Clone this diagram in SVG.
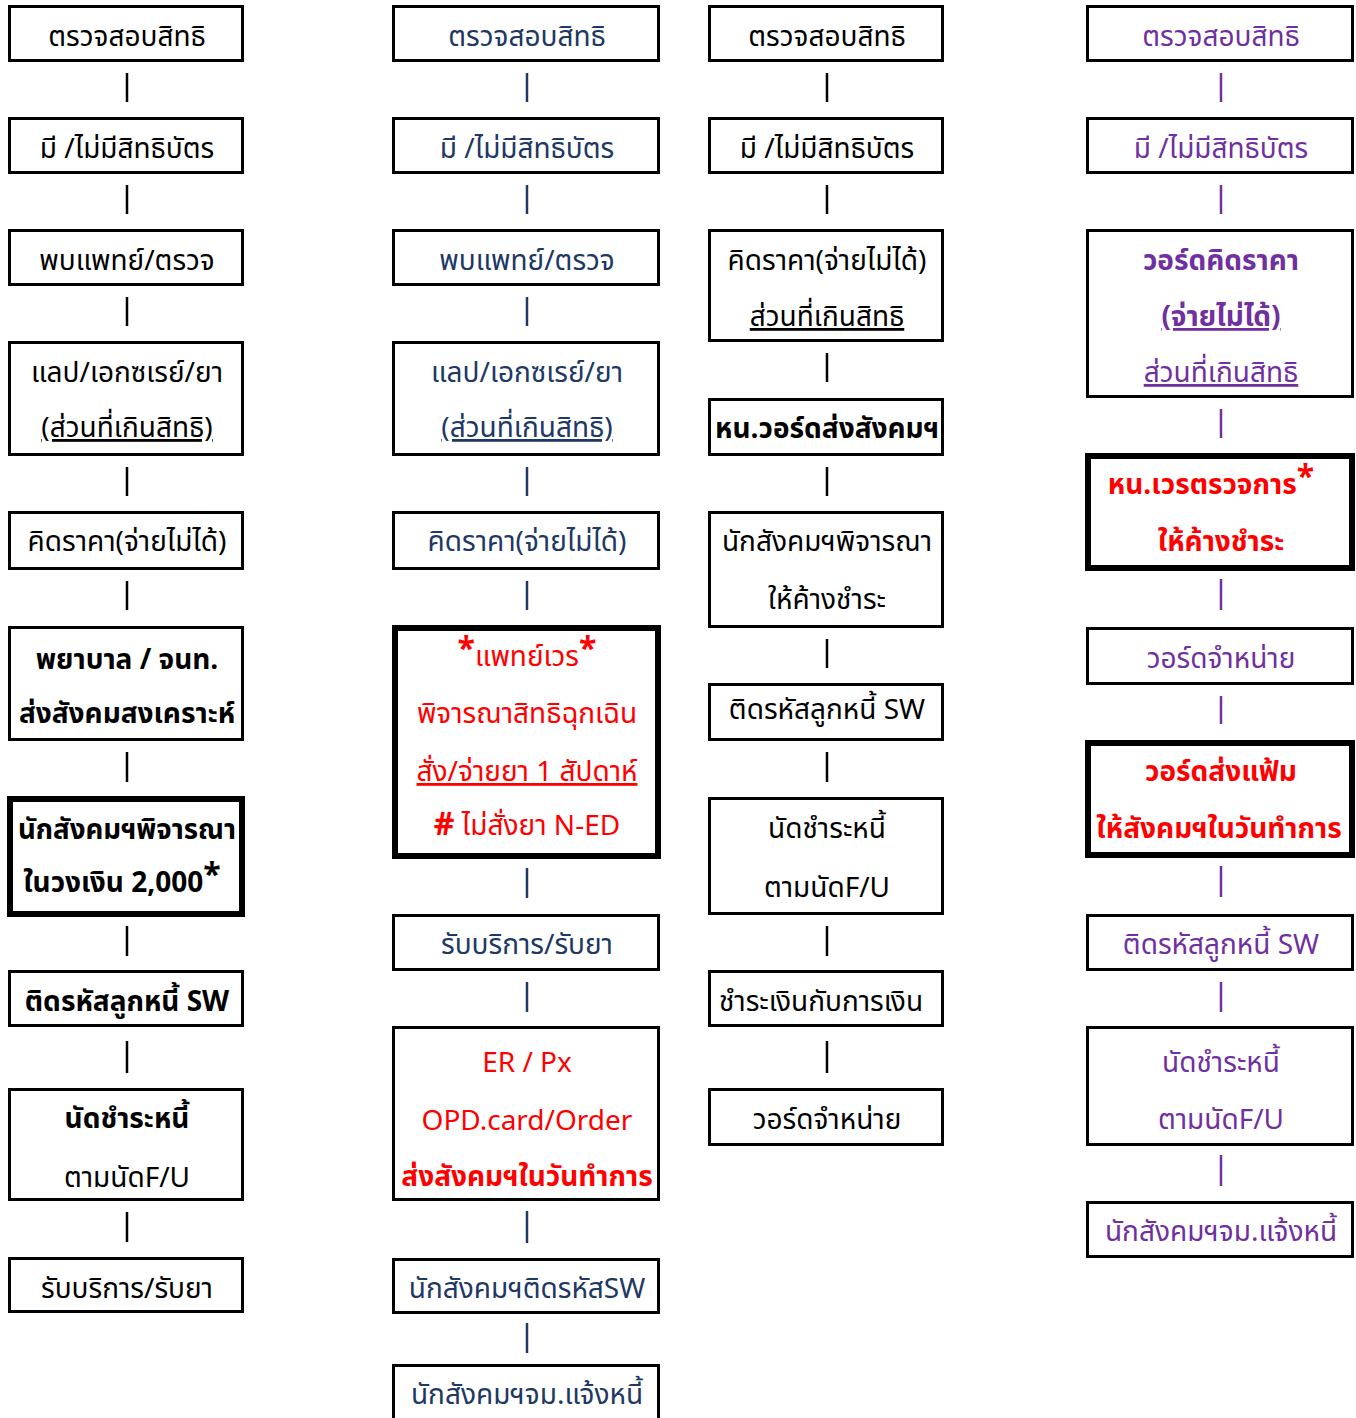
<svg xmlns="http://www.w3.org/2000/svg" width="1356" height="1418" viewBox="0 0 1356 1418">
<style>
text{font-family:"Noto Sans Thai","Tahoma","Noto Sans","DejaVu Sans",sans-serif;font-size:28px;text-anchor:middle}
.box{fill:#fff;stroke:#000;stroke-width:3}
.thick{fill:#fff;stroke:#000;stroke-width:6}
.k{fill:#000}
.b{fill:#203864}
.p{fill:#7030A0}
.r{fill:#FF0000}
.bold{font-weight:bold}
.u{text-decoration:underline}
.ck{stroke:#000;stroke-width:2.5}
.cb{stroke:#203864;stroke-width:2.5}
.cp{stroke:#7030A0;stroke-width:2.5}
.st{font-weight:bold;font-size:32px}
</style>
<rect width="1356" height="1418" fill="#fff"/>
<g id="connectors">
<line class="ck" x1="127" y1="73" x2="127" y2="102"/>
<line class="ck" x1="127" y1="185" x2="127" y2="214"/>
<line class="ck" x1="127" y1="297" x2="127" y2="326"/>
<line class="ck" x1="127" y1="467" x2="127" y2="496"/>
<line class="ck" x1="127" y1="581" x2="127" y2="610"/>
<line class="ck" x1="127" y1="752" x2="127" y2="782"/>
<line class="ck" x1="127" y1="926" x2="127" y2="956"/>
<line class="ck" x1="127" y1="1041" x2="127" y2="1073"/>
<line class="ck" x1="127" y1="1212" x2="127" y2="1242"/>
<line class="cb" x1="527" y1="73" x2="527" y2="102"/>
<line class="cb" x1="527" y1="185" x2="527" y2="214"/>
<line class="cb" x1="527" y1="297" x2="527" y2="326"/>
<line class="cb" x1="527" y1="467" x2="527" y2="496"/>
<line class="cb" x1="527" y1="581" x2="527" y2="610"/>
<line class="cb" x1="527" y1="868" x2="527" y2="898"/>
<line class="cb" x1="527" y1="982" x2="527" y2="1012"/>
<line class="cb" x1="527" y1="1211" x2="527" y2="1243"/>
<line class="cb" x1="527" y1="1323" x2="527" y2="1353"/>
<line class="ck" x1="827" y1="73" x2="827" y2="102"/>
<line class="ck" x1="827" y1="185" x2="827" y2="214"/>
<line class="ck" x1="827" y1="353" x2="827" y2="382"/>
<line class="ck" x1="827" y1="467" x2="827" y2="496"/>
<line class="ck" x1="827" y1="639" x2="827" y2="668"/>
<line class="ck" x1="827" y1="752" x2="827" y2="782"/>
<line class="ck" x1="827" y1="926" x2="827" y2="956"/>
<line class="ck" x1="827" y1="1041" x2="827" y2="1073"/>
<line class="cp" x1="1221" y1="73" x2="1221" y2="102"/>
<line class="cp" x1="1221" y1="185" x2="1221" y2="214"/>
<line class="cp" x1="1221" y1="409" x2="1221" y2="438"/>
<line class="cp" x1="1221" y1="579" x2="1221" y2="610"/>
<line class="cp" x1="1221" y1="696" x2="1221" y2="724"/>
<line class="cp" x1="1221" y1="866" x2="1221" y2="897"/>
<line class="cp" x1="1221" y1="982" x2="1221" y2="1012"/>
<line class="cp" x1="1221" y1="1155" x2="1221" y2="1186"/>
</g>
<!-- Column 1 -->
<g id="c1n1"><rect class="box" x="9.5" y="6.5" width="233" height="54"/><text class="k" x="127" y="46">ตรวจสอบสิทธิ</text></g>
<g id="c1n2"><rect class="box" x="9.5" y="118.5" width="233" height="54"/><text class="k" x="127" y="158">มี /ไม่มีสิทธิบัตร</text></g>
<g id="c1n3"><rect class="box" x="9.5" y="230.5" width="233" height="54"/><text class="k" x="127" y="270">พบแพทย์/ตรวจ</text></g>
<g id="c1n4"><rect class="box" x="9.5" y="342.5" width="233" height="112"/><text class="k" x="127" y="382">แลป/เอกซเรย์/ยา</text><text class="k u" x="127" y="437">(ส่วนที่เกินสิทธิ)</text></g>
<g id="c1n5"><rect class="box" x="9.5" y="512.5" width="233" height="56"/><text class="k" x="127" y="551">คิดราคา(จ่ายไม่ได้)</text></g>
<g id="c1n6"><rect class="box" x="9.5" y="627.5" width="233" height="112"/><text class="k bold" x="127" y="669">พยาบาล / จนท.</text><text class="k bold" x="127" y="723">ส่งสังคมสงเคราะห์</text></g>
<g id="c1n7"><rect class="thick" x="10" y="799" width="232" height="115"/><text class="k bold" x="127" y="839" textLength="218" lengthAdjust="spacingAndGlyphs">นักสังคมฯพิจารณา</text><text class="k bold" x="122" y="892">ในวงเงิน 2,000<tspan class="st" dy="-6">*</tspan></text></g>
<g id="c1n8"><rect class="box" x="9.5" y="971.5" width="233" height="54"/><text class="k bold" x="127" y="1011">ติดรหัสลูกหนี้ SW</text></g>
<g id="c1n9"><rect class="box" x="9.5" y="1089.5" width="233" height="110"/><text class="k bold" x="127" y="1128">นัดชำระหนี้</text><text class="k" x="127" y="1187">ตามนัดF/U</text></g>
<g id="c1n10"><rect class="box" x="9.5" y="1258.5" width="233" height="53"/><text class="k" x="127" y="1298">รับบริการ/รับยา</text></g>
<!-- Column 2 -->
<g id="c2n1"><rect class="box" x="393.5" y="6.5" width="265" height="54"/><text class="b" x="527" y="46">ตรวจสอบสิทธิ</text></g>
<g id="c2n2"><rect class="box" x="393.5" y="118.5" width="265" height="54"/><text class="b" x="527" y="158">มี /ไม่มีสิทธิบัตร</text></g>
<g id="c2n3"><rect class="box" x="393.5" y="230.5" width="265" height="54"/><text class="b" x="527" y="270">พบแพทย์/ตรวจ</text></g>
<g id="c2n4"><rect class="box" x="393.5" y="342.5" width="265" height="112"/><text class="b" x="527" y="382">แลป/เอกซเรย์/ยา</text><text class="b u" x="527" y="437">(ส่วนที่เกินสิทธิ)</text></g>
<g id="c2n5"><rect class="box" x="393.5" y="512.5" width="265" height="56"/><text class="b" x="527" y="551">คิดราคา(จ่ายไม่ได้)</text></g>
<g id="c2n6"><rect class="thick" x="395" y="628" width="263" height="228"/><text class="r" x="527" y="666"><tspan class="st" dy="-6">*</tspan><tspan dy="6">แพทย์เวร</tspan><tspan class="st" dy="-6">*</tspan></text><text class="r" x="527" y="723">พิจารณาสิทธิฉุกเฉิน</text><text class="r u" x="527" y="781">สั่ง/จ่ายยา 1 สัปดาห์</text><text class="r" x="527" y="835"><tspan class="st">#</tspan> ไม่สั่งยา N-ED</text></g>
<g id="c2n7"><rect class="box" x="393.5" y="915.5" width="265" height="54"/><text class="b" x="527" y="954">รับบริการ/รับยา</text></g>
<g id="c2n8"><rect class="box" x="393.5" y="1027.5" width="265" height="172"/><text class="r" x="527" y="1072">ER / Px</text><text class="r" x="527" y="1130">OPD.card/Order</text><text class="r bold" x="527" y="1186">ส่งสังคมฯในวันทำการ</text></g>
<g id="c2n9"><rect class="box" x="393.5" y="1259.5" width="265" height="53"/><text class="b" x="527" y="1298">นักสังคมฯติดรหัสSW</text></g>
<g id="c2n10"><rect class="box" x="393.5" y="1365.5" width="265" height="60"/><text class="b" x="527" y="1404">นักสังคมฯจม.แจ้งหนี้</text></g>
<!-- Column 3 -->
<g id="c3n1"><rect class="box" x="709.5" y="6.5" width="233" height="54"/><text class="k" x="827" y="46">ตรวจสอบสิทธิ</text></g>
<g id="c3n2"><rect class="box" x="709.5" y="118.5" width="233" height="54"/><text class="k" x="827" y="158">มี /ไม่มีสิทธิบัตร</text></g>
<g id="c3n3"><rect class="box" x="709.5" y="230.5" width="233" height="110"/><text class="k" x="827" y="270">คิดราคา(จ่ายไม่ได้)</text><text class="k u" x="827" y="326">ส่วนที่เกินสิทธิ</text></g>
<g id="c3n4"><rect class="box" x="709.5" y="399.5" width="233" height="55"/><text class="k bold" x="827" y="438">หน.วอร์ดส่งสังคมฯ</text></g>
<g id="c3n5"><rect class="box" x="709.5" y="512.5" width="233" height="114"/><text class="k" x="827" y="551">นักสังคมฯพิจารณา</text><text class="k" x="827" y="609">ให้ค้างชำระ</text></g>
<g id="c3n6"><rect class="box" x="709.5" y="684.5" width="233" height="55"/><text class="k" x="827" y="719">ติดรหัสลูกหนี้ SW</text></g>
<g id="c3n7"><rect class="box" x="709.5" y="798.5" width="233" height="115"/><text class="k" x="827" y="838">นัดชำระหนี้</text><text class="k" x="827" y="897">ตามนัดF/U</text></g>
<g id="c3n8"><rect class="box" x="709.5" y="971.5" width="233" height="54"/><text class="k" x="821" y="1011">ชำระเงินกับการเงิน</text></g>
<g id="c3n9"><rect class="box" x="709.5" y="1089.5" width="233" height="55"/><text class="k" x="827" y="1129">วอร์ดจำหน่าย</text></g>
<!-- Column 4 -->
<g id="c4n1"><rect class="box" x="1087.5" y="6.5" width="265" height="54"/><text class="p" x="1221" y="46">ตรวจสอบสิทธิ</text></g>
<g id="c4n2"><rect class="box" x="1087.5" y="118.5" width="265" height="54"/><text class="p" x="1221" y="158">มี /ไม่มีสิทธิบัตร</text></g>
<g id="c4n3"><rect class="box" x="1087.5" y="230.5" width="265" height="166"/><text class="p bold" x="1221" y="270">วอร์ดคิดราคา</text><text class="p bold u" x="1221" y="326">(จ่ายไม่ได้)</text><text class="p u" x="1221" y="382">ส่วนที่เกินสิทธิ</text></g>
<g id="c4n4"><rect class="thick" x="1088" y="456" width="264" height="112"/><text class="r bold" x="1211" y="494">หน.เวรตรวจการ<tspan class="st" dy="-6">*</tspan></text><text class="r bold" x="1221" y="551">ให้ค้างชำระ</text></g>
<g id="c4n5"><rect class="box" x="1087.5" y="628.5" width="265" height="55"/><text class="p" x="1221" y="668">วอร์ดจำหน่าย</text></g>
<g id="c4n6"><rect class="thick" x="1088" y="743" width="264" height="112"/><text class="r bold" x="1221" y="781">วอร์ดส่งแฟ้ม</text><text class="r bold" x="1219" y="838">ให้สังคมฯในวันทำการ</text></g>
<g id="c4n7"><rect class="box" x="1087.5" y="915.5" width="265" height="54"/><text class="p" x="1221" y="954">ติดรหัสลูกหนี้ SW</text></g>
<g id="c4n8"><rect class="box" x="1087.5" y="1027.5" width="265" height="117"/><text class="p" x="1221" y="1072">นัดชำระหนี้</text><text class="p" x="1221" y="1129">ตามนัดF/U</text></g>
<g id="c4n9"><rect class="box" x="1087.5" y="1202.5" width="265" height="54"/><text class="p" x="1221" y="1241">นักสังคมฯจม.แจ้งหนี้</text></g>
</svg>
